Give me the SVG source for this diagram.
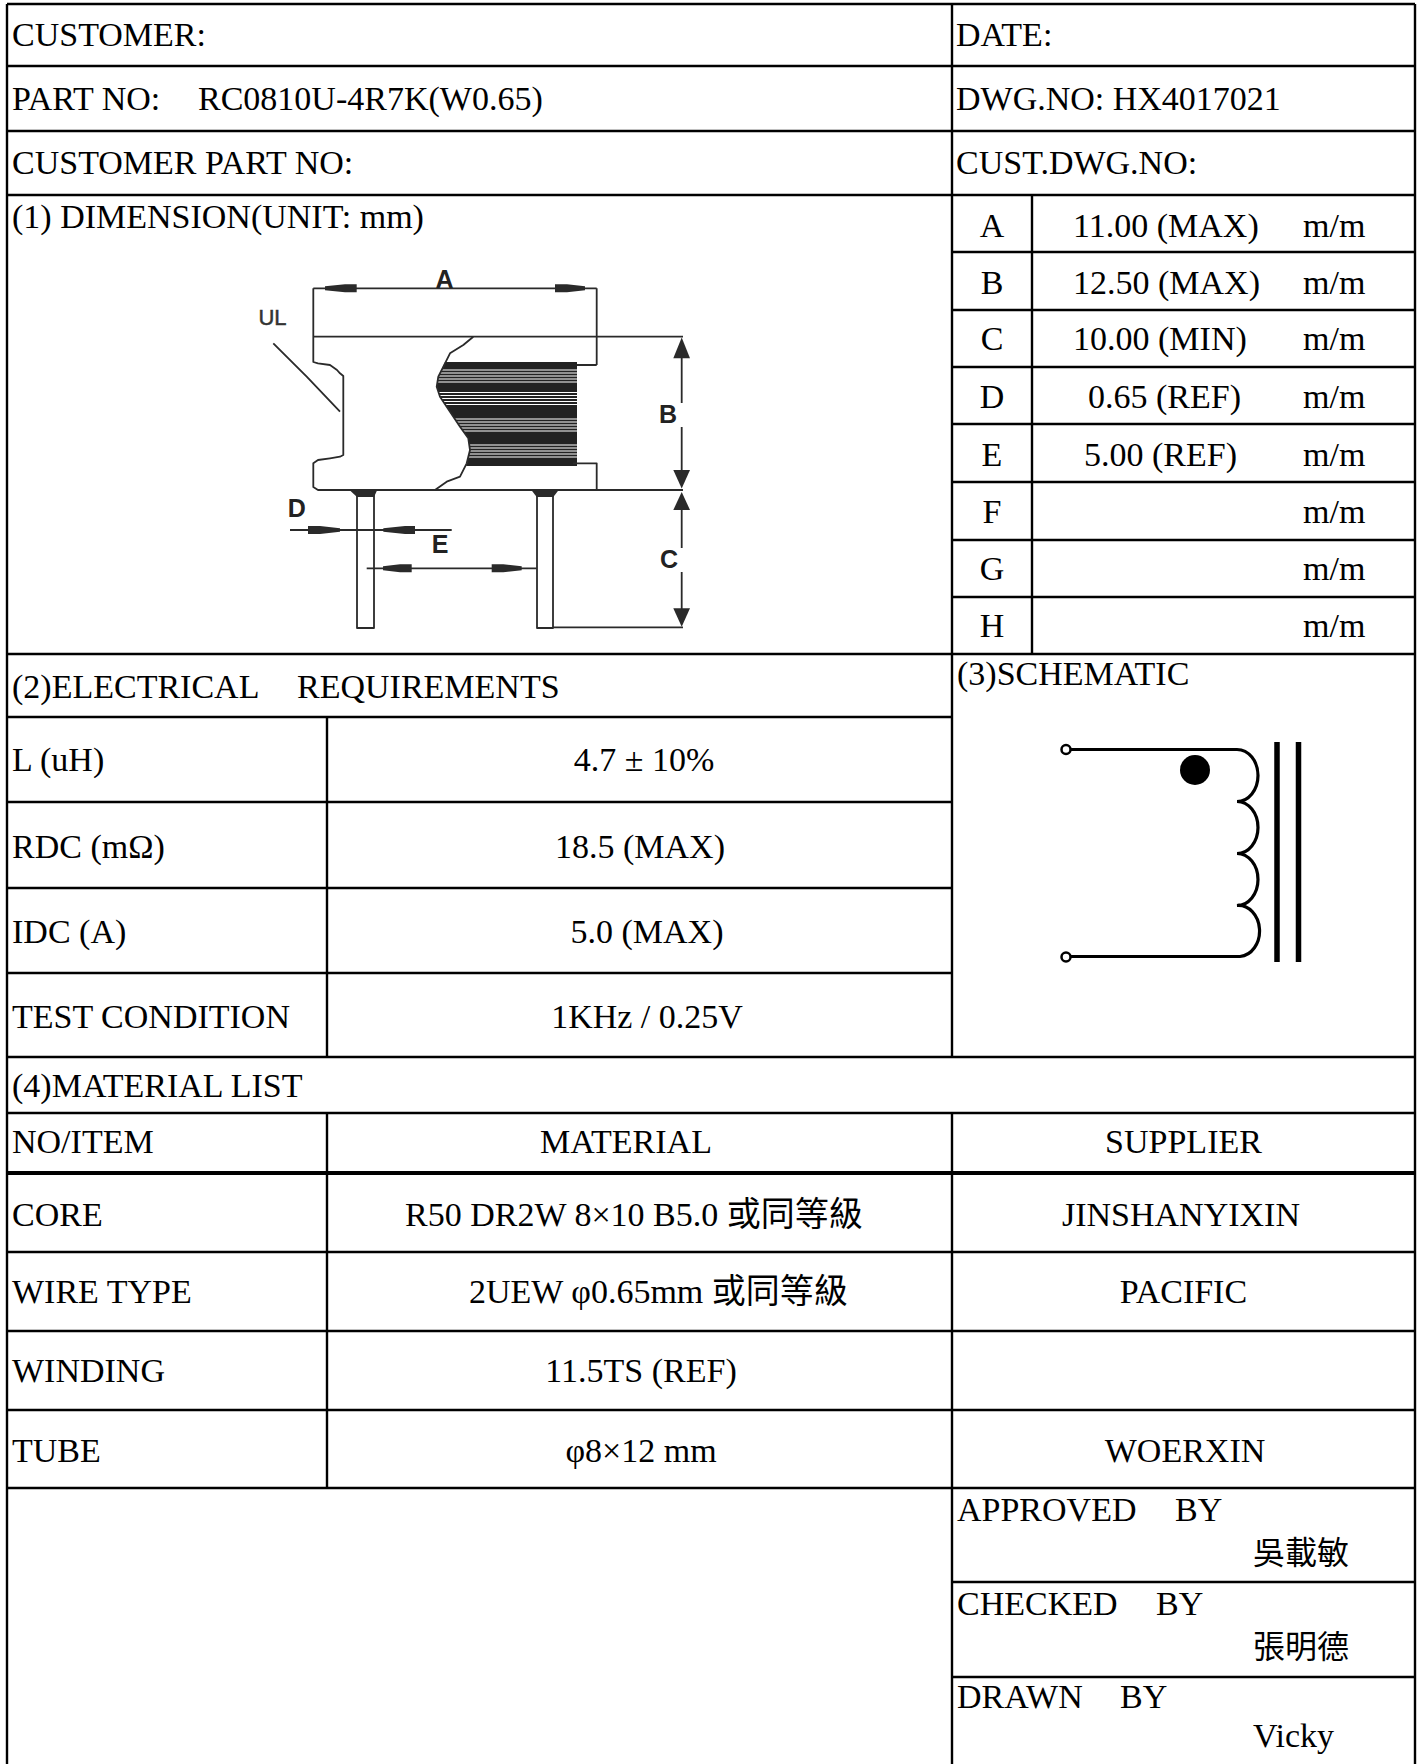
<svg xmlns="http://www.w3.org/2000/svg" width="1421" height="1764" viewBox="0 0 1421 1764">
<style>
.t{font-family:'Liberation Serif','Noto Sans CJK TC',serif;font-size:34px;fill:#000}
.c{text-anchor:middle}
.cjk{font-family:'Noto Sans CJK TC',sans-serif;font-size:32px;fill:#000}
.g{stroke:#000;stroke-width:2.4;fill:none}
.d{stroke:#2a2a2a;stroke-width:1.8;fill:none;stroke-linejoin:round}
.lb{font-family:'Liberation Sans',Arial,sans-serif;font-weight:bold;font-size:25px;fill:#222;text-anchor:middle}
.ah{fill:#2a2a2a}
</style>
<rect width="1421" height="1764" fill="#fff"/>
<g id="grid" class="g">
<path d="M7 4V1764M1415 4V1764M7 4H1415M7 66H1415M7 131H1415M7 195H1415"/>
<path d="M952 4V1057M952 1113V1764M1032 195V654"/>
<path d="M952 252H1415M952 310H1415M952 367H1415M952 424H1415M952 482H1415M952 540H1415M952 597H1415"/>
<path d="M7 654H1415M7 717H952M7 802H952M7 888H952M7 973H952M7 1057H1415M7 1113H1415"/>
<path d="M327 717V1057M327 1113V1488"/>
<path d="M7 1252H1415M7 1331H1415M7 1410H1415M7 1488H1415M952 1582H1415M952 1677H1415"/>
<path d="M7 1173H1415" stroke-width="4"/>
</g>
<g id="header">
<text class="t" x="12" y="46">CUSTOMER:</text>
<text class="t" x="12" y="110">PART NO:<tspan x="198">RC0810U-4R7K(W0.65)</tspan></text>
<text class="t" x="12" y="174">CUSTOMER PART NO:</text>
<text class="t" x="956" y="46">DATE:</text>
<text class="t" x="956" y="110">DWG.NO: HX4017021</text>
<text class="t" x="956" y="174">CUST.DWG.NO:</text>
<text class="t" x="12" y="228">(1) DIMENSION(UNIT: mm)</text>
</g>
<g id="dimtable">
<text class="t c" x="992" y="237">A</text><text class="t" x="1073" y="237">11.00 (MAX)</text><text class="t" x="1303" y="237">m/m</text>
<text class="t c" x="992" y="294">B</text><text class="t" x="1073" y="294">12.50 (MAX)</text><text class="t" x="1303" y="294">m/m</text>
<text class="t c" x="992" y="350">C</text><text class="t" x="1073" y="350">10.00 (MIN)</text><text class="t" x="1303" y="350">m/m</text>
<text class="t c" x="992" y="408">D</text><text class="t" x="1088" y="408">0.65 (REF)</text><text class="t" x="1303" y="408">m/m</text>
<text class="t c" x="992" y="466">E</text><text class="t" x="1084" y="466">5.00 (REF)</text><text class="t" x="1303" y="466">m/m</text>
<text class="t c" x="992" y="523">F</text><text class="t" x="1303" y="523">m/m</text>
<text class="t c" x="992" y="580">G</text><text class="t" x="1303" y="580">m/m</text>
<text class="t c" x="992" y="637">H</text><text class="t" x="1303" y="637">m/m</text>
</g>
<g id="component">
<defs>
<clipPath id="wclip"><polygon points="445,362 438.3,376.7 436.7,386.7 440,396.7 450,411.7 460,426.7 468.3,438.3 470,450 467,463.3 466,466 577,466 577,362"/></clipPath>
</defs>
<polygon points="445,362 438.3,376.7 436.7,386.7 440,396.7 450,411.7 460,426.7 468.3,438.3 470,450 467,463.3 466,466 577,466 577,362" fill="#222"/>
<g clip-path="url(#wclip)" stroke="#fff" stroke-width="1.2">
<path d="M430 370H580M430 373H580M430 376H580M430 379H580M430 382H580"/>
<path d="M430 392.5H580M430 395.5H580M430 398.5H580M430 401.5H580M430 404.5H580"/>
<path d="M430 419H580M430 422H580M430 425H580M430 428H580M430 431H580"/>
<path d="M430 445H580M430 448H580M430 451H580M430 454H580M430 457H580"/>
</g>
<path class="d" d="M313.3 288.3V362L318 363.3L330 365L337 370L340 373.3L343.3 376V455L340 456.7L330 458.3L318 460L313.3 463.3V487L318 490H683"/>
<path class="d" d="M313.3 336.7H683M313.3 288.3H596.7M596.7 288.3V365M577 365H596.7M573 463.3H596.7V490"/>
<path class="d" d="M473.3 336.7L463.3 345L450 353.3L445 363.3L438.3 376.7L436.7 386.7L440 396.7L450 411.7L460 426.7L468.3 438.3L470 450L466.7 463.3L460 476.7L446.7 481.7L435 490"/>
<path class="d" d="M273.3 343.3L306.7 376.7L340 411.7" stroke-width="1.4"/>
<rect class="d" x="357" y="494" width="17" height="134"/>
<rect class="d" x="537" y="494" width="16" height="134"/>
<polygon class="ah" points="350,490.5 377,490.5 374,497 357,497"/>
<polygon class="ah" points="531.7,490.5 558.3,490.5 553.3,497 536.7,497"/>
<path class="d" d="M290 530H451.7M366.7 568.3H536.7M553 627.3H683"/>
<path class="d" d="M681.7 345V403M681.7 427V480M681.7 500V548M681.7 572V618"/>
<polygon class="ah" points="325,286.3 345,284.3 356.7,284.3 356.7,292.3 345,292.3 325,290.3"/>
<polygon class="ah" points="585,286.3 567,284.3 555,284.3 555,292.3 567,292.3 585,290.3"/>
<polygon class="ah" points="308,526 320,526 340,528.3 340,531.7 320,534 308,534"/>
<polygon class="ah" points="415,526 405,526 383.3,528.3 383.3,531.7 405,534 415,534"/>
<polygon class="ah" points="383,566.3 400,564.3 411.7,564.3 411.7,572.3 400,572.3 383,570.3"/>
<polygon class="ah" points="521.7,566.3 503.3,564.3 491.7,564.3 491.7,572.3 503.3,572.3 521.7,570.3"/>
<polygon class="ah" points="681.7,337.5 690,358.3 673.3,358.3"/>
<polygon class="ah" points="681.7,488.5 690,470 673.3,470"/>
<polygon class="ah" points="681.7,492 690,510 673.3,510"/>
<polygon class="ah" points="681.7,626.7 690,608.3 673.3,608.3"/>
<text class="lb" x="444.5" y="288">A</text>
<text class="lb" x="668" y="423">B</text>
<text class="lb" x="669" y="568">C</text>
<text class="lb" x="296.7" y="516.7">D</text>
<text class="lb" x="440" y="553.3">E</text>
<text x="272.5" y="325" style="font-family:'Liberation Sans',Arial,sans-serif;font-size:22px;fill:#333;text-anchor:middle;stroke:#333;stroke-width:0.5">UL</text>
</g>
<g id="electrical">
<text class="t" x="12" y="698">(2)ELECTRICAL<tspan x="297">REQUIREMENTS</tspan></text>
<text class="t" x="12" y="771">L (uH)</text><text class="t c" x="644" y="771">4.7 ± 10%</text>
<text class="t" x="12" y="858">RDC (mΩ)</text><text class="t c" x="640" y="858">18.5 (MAX)</text>
<text class="t" x="12" y="943">IDC (A)</text><text class="t c" x="647" y="943">5.0 (MAX)</text>
<text class="t" x="12" y="1028">TEST CONDITION</text><text class="t c" x="647" y="1028">1KHz / 0.25V</text>
</g>
<g id="schematic">
<text class="t" x="957" y="685">(3)SCHEMATIC</text>
<path d="M1071 749.5H1237A21 26 0 0 1 1237 801.5A21 26 0 0 1 1237 853.5A21 26 0 0 1 1237 905.5A21 25.5 0 0 1 1240 956.5H1071" fill="none" stroke="#000" stroke-width="3.2"/>
<circle cx="1066" cy="749.5" r="4.5" fill="#fff" stroke="#000" stroke-width="2.5"/>
<circle cx="1066" cy="957" r="4.5" fill="#fff" stroke="#000" stroke-width="2.5"/>
<circle cx="1195" cy="770" r="15" fill="#000"/>
<path d="M1277 742V962M1298.5 742V962" stroke="#000" stroke-width="5.5"/>
</g>
<g id="material">
<text class="t" x="12" y="1097">(4)MATERIAL LIST</text>
<text class="t" x="12" y="1153">NO/ITEM</text><text class="t c" x="626" y="1153">MATERIAL</text><text class="t c" x="1183.5" y="1153">SUPPLIER</text>
<text class="t" x="12" y="1226">CORE</text><text class="t" x="405" y="1226">R50 DR2W 8×10 B5.0 或同等級</text><text class="t c" x="1181" y="1226">JINSHANYIXIN</text>
<text class="t" x="12" y="1303">WIRE TYPE</text><text class="t" x="469" y="1303">2UEW φ0.65mm 或同等級</text><text class="t c" x="1183.5" y="1303">PACIFIC</text>
<text class="t" x="12" y="1382">WINDING</text><text class="t c" x="641" y="1382">11.5TS (REF)</text>
<text class="t" x="12" y="1462">TUBE</text><text class="t c" x="641" y="1462">φ8×12 mm</text><text class="t c" x="1185" y="1462">WOERXIN</text>
</g>
<g id="signoff">
<text class="t" x="957" y="1521">APPROVED<tspan x="1175">BY</tspan></text>
<text class="cjk" x="1253" y="1564">吳載敏</text>
<text class="t" x="957" y="1615">CHECKED<tspan x="1156">BY</tspan></text>
<text class="cjk" x="1253" y="1658">張明德</text>
<text class="t" x="957" y="1708">DRAWN<tspan x="1120">BY</tspan></text>
<text class="t" x="1253" y="1747">Vicky</text>
</g>
</svg>
